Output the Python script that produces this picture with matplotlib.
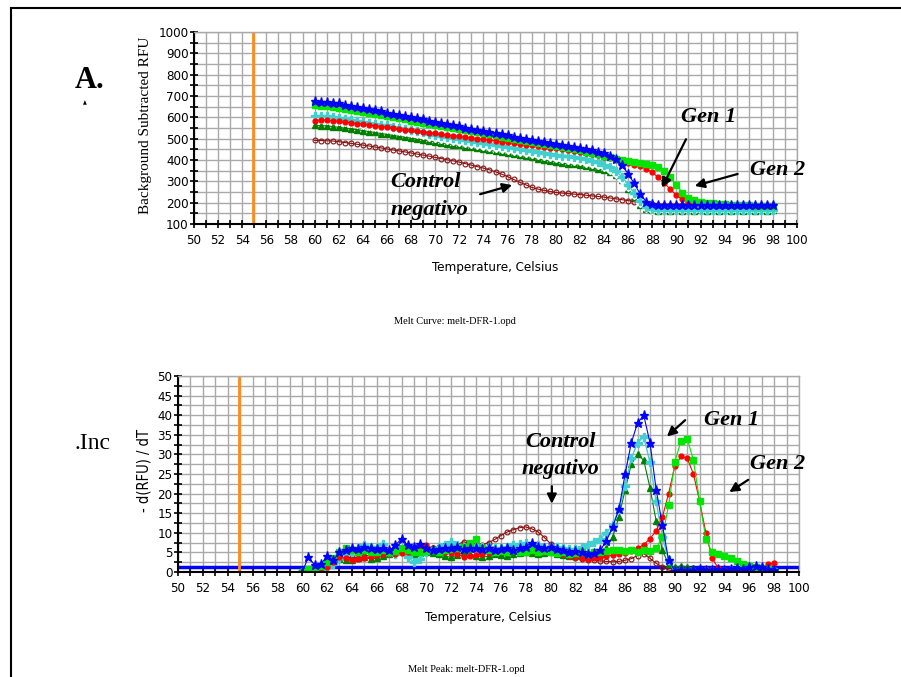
import numpy as np
import matplotlib
matplotlib.use('Agg')
import matplotlib.pyplot as plt
from matplotlib import font_manager
from matplotlib.ticker import MultipleLocator
from matplotlib.patches import Rectangle

# fuente estrecha: la que haya instalada
_fonts = font_manager.fontManager.ttflist
if any(f.name == 'Liberation Sans Narrow' for f in _fonts):
    NARROW, STRETCH, TK = ['Liberation Sans Narrow', 'DejaVu Sans'], 'normal', 10
elif any(f.name == 'DejaVu Sans' and 'condensed' in str(f.stretch) for f in _fonts):
    NARROW, STRETCH, TK = ['DejaVu Sans'], 'condensed', 9.5
else:
    NARROW, STRETCH, TK = ['Liberation Sans', 'DejaVu Sans'], 'normal', 8.5
SERIF = ['Liberation Serif', 'DejaVu Serif']
plt.rcParams['font.family'] = NARROW
plt.rcParams['font.stretch'] = STRETCH

# temperatura (grados C), paso 0.5
temps = [60.0, 60.5, 61.0, 61.5, 62.0, 62.5, 63.0, 63.5, 64.0, 64.5,
         65.0, 65.5, 66.0, 66.5, 67.0, 67.5, 68.0, 68.5, 69.0, 69.5,
         70.0, 70.5, 71.0, 71.5, 72.0, 72.5, 73.0, 73.5, 74.0, 74.5,
         75.0, 75.5, 76.0, 76.5, 77.0, 77.5, 78.0, 78.5, 79.0, 79.5,
         80.0, 80.5, 81.0, 81.5, 82.0, 82.5, 83.0, 83.5, 84.0, 84.5,
         85.0, 85.5, 86.0, 86.5, 87.0, 87.5, 88.0, 88.5, 89.0, 89.5,
         90.0, 90.5, 91.0, 91.5, 92.0, 92.5, 93.0, 93.5, 94.0, 94.5,
         95.0, 95.5, 96.0, 96.5, 97.0, 97.5, 98.0]

##curva de fusion (RFU)
rfu_blue = [676, 674, 672, 669, 665, 660, 655, 650, 645, 639,
            634, 628, 622, 617, 611, 606, 600, 595, 590, 585,
            580, 574, 569, 563, 558, 552, 547, 541, 536, 530,
            525, 520, 515, 510, 505, 500, 495, 490, 485, 481,
            477, 472, 467, 462, 457, 451, 445, 438, 431, 421,
            405, 375, 335, 290, 240, 205, 192, 190, 191, 189,
            190, 191, 189, 190, 191, 189, 190, 191, 189, 190,
            191, 189, 190, 191, 189, 190, 190]
rfu_green = [656, 654, 651, 647, 643, 639, 634, 629, 625, 620,
             615, 610, 605, 600, 595, 590, 585, 580, 575, 570,
             565, 560, 555, 550, 545, 540, 535, 530, 525, 520,
             515, 510, 505, 500, 495, 490, 485, 480, 475, 470,
             465, 460, 455, 450, 445, 439, 433, 427, 420, 413,
             406, 400, 396, 392, 388, 382, 375, 365, 347, 318,
             282, 247, 223, 211, 204, 200, 197, 195, 193, 191,
             189, 188, 187, 186, 185, 184, 183]
rfu_red = [585, 588, 587, 584, 581, 577, 574, 570, 567, 563,
           560, 556, 553, 549, 546, 542, 539, 535, 532, 528,
           525, 521, 518, 514, 511, 507, 504, 500, 497, 493,
           490, 486, 483, 479, 476, 472, 469, 465, 462, 458,
           455, 451, 447, 443, 439, 434, 429, 423, 416, 408,
           400, 392, 384, 377, 370, 358, 342, 318, 292, 262,
           235, 215, 203, 198, 195, 193, 192, 191, 191, 190,
           190, 190, 189, 189, 189, 189, 189]
rfu_cyan = [606, 606, 604, 601, 598, 593, 589, 584, 580, 575,
            571, 566, 562, 557, 552, 547, 542, 536, 530, 524,
            518, 514, 509, 505, 500, 495, 490, 485, 480, 476,
            471, 467, 462, 458, 453, 449, 444, 439, 435, 430,
            425, 421, 417, 412, 408, 403, 397, 389, 378, 366,
            348, 320, 285, 245, 210, 182, 168, 165, 166, 165,
            166, 167, 166, 165, 166, 167, 166, 165, 166, 167,
            166, 165, 166, 167, 166, 165, 166]
rfu_white = [592, 591, 589, 586, 583, 578, 574, 569, 565, 560,
             556, 551, 547, 542, 537, 532, 527, 521, 515, 509,
             503, 499, 494, 490, 485, 480, 475, 470, 465, 461,
             456, 452, 447, 443, 438, 434, 429, 424, 420, 415,
             410, 406, 402, 397, 393, 388, 382, 375, 365, 353,
             336, 308, 273, 235, 200, 176, 166, 165, 166, 165,
             166, 165, 166, 165, 166, 165, 166, 165, 166, 165,
             166, 165, 166, 165, 166, 165, 166]
rfu_dkgreen = [562, 561, 560, 557, 553, 549, 546, 542, 538, 533,
               529, 524, 520, 515, 511, 507, 502, 498, 494, 489,
               485, 481, 476, 472, 468, 463, 459, 454, 450, 446,
               441, 437, 432, 427, 422, 417, 412, 406, 401, 395,
               390, 386, 382, 379, 375, 370, 365, 359, 352, 343,
               332, 305, 265, 225, 190, 172, 165, 163, 164, 163,
               164, 163, 164, 163, 164, 163, 164, 163, 164, 163,
               164, 163, 164, 163, 164, 163, 164]
rfu_control = [492, 491, 490, 489, 486, 482, 478, 474, 470, 466,
               461, 457, 452, 447, 443, 438, 433, 428, 423, 418,
               412, 407, 401, 396, 390, 383, 376, 369, 362, 354,
               345, 334, 322, 309, 296, 284, 272, 264, 258, 253,
               248, 245, 243, 240, 238, 235, 232, 229, 226, 222,
               218, 214, 210, 204, 198, 194, 192, 191, 191, 190,
               190, 190, 190, 190, 190, 190, 190, 190, 190, 190,
               190, 190, 190, 190, 190, 190, 190]

##pico de fusion -d(RFU)/dT
d_blue = [0.0, 3.8, 1.8, 2.0, 4.0, 3.0, 5.0, 5.5, 6.0, 5.8,
          6.3, 6.0, 5.8, 6.0, 5.5, 6.8, 8.5, 6.8, 6.5, 7.2,
          6.0, 5.5, 5.8, 6.2, 6.0, 6.3, 5.8, 6.0, 6.0, 5.8,
          6.0, 5.5, 5.8, 6.0, 5.5, 6.0, 6.5, 7.5, 6.5, 6.0,
          6.5, 5.8, 5.5, 5.0, 5.3, 5.0, 4.5, 4.8, 5.5, 8.0,
          11.5, 16.0, 25.0, 33.0, 38.0, 40.0, 33.0, 21.0, 12.0, 3.0,
          0.3, 0.5, 0.2, 0.5, 0.8, 0.6, 0.5, 0.8, 0.6, 0.8,
          1.0, 0.8, 1.2, 1.5, 1.3, 0.8, 0.6]
d_green = [0.0, 0.8, 1.0, 1.5, 2.5, 3.5, 5.0, 6.0, 5.5, 5.0,
           5.5, 5.0, 5.2, 5.5, 5.0, 5.3, 6.0, 5.5, 5.2, 5.0,
           5.3, 5.5, 5.0, 5.5, 5.8, 6.0, 6.5, 7.5, 8.5, 6.0,
           5.5, 5.0, 5.3, 5.0, 5.5, 5.0, 5.2, 5.5, 5.0, 5.3,
           5.0, 4.8, 5.0, 4.5, 4.8, 5.0, 4.5, 5.0, 5.0, 5.3,
           5.5, 5.5, 5.3, 5.5, 5.2, 5.5, 5.3, 6.0, 9.0, 17.0,
           28.0, 33.5, 34.0, 28.5, 18.0, 8.5, 5.0, 4.5, 4.0, 3.5,
           2.8, 2.0, 1.5, 1.2, 1.0, 0.8, 0.2]
d_red = [0.0, 0.2, 0.3, 0.0, 1.2, 2.5, 3.8, 3.5, 3.0, 3.2,
         3.5, 3.8, 4.3, 4.5, 4.8, 4.5, 4.8, 5.0, 5.5, 6.0,
         6.8, 6.0, 5.2, 5.0, 4.8, 4.5, 3.8, 4.0, 4.3, 4.5,
         4.8, 5.0, 5.2, 5.3, 5.5, 5.3, 5.5, 5.3, 5.0, 5.2,
         5.0, 4.8, 4.5, 4.2, 3.8, 3.5, 3.2, 3.5, 3.8, 4.0,
         4.3, 4.5, 4.8, 5.3, 6.0, 7.0, 8.5, 10.5, 14.0, 20.0,
         27.0, 29.5, 29.0, 25.0, 18.0, 10.0, 3.5, 1.0, 0.5, 0.3,
         0.5, 0.3, 0.5, 0.8, 1.0, 2.0, 2.2]
d_cyan = [0.0, 0.3, 0.5, 0.8, 1.3, 2.0, 3.5, 4.5, 5.2, 6.0,
          6.8, 6.5, 6.2, 7.2, 5.0, 4.5, 5.5, 3.8, 2.5, 3.3,
          5.0, 5.8, 6.3, 7.0, 7.6, 7.0, 6.3, 6.5, 6.8, 6.5,
          6.3, 6.0, 6.2, 6.5, 7.0, 7.2, 7.3, 7.0, 6.8, 6.5,
          6.5, 6.3, 6.0, 5.8, 5.8, 6.3, 6.8, 7.7, 8.5, 10.0,
          12.0, 16.0, 22.0, 29.0, 33.0, 34.5, 28.0, 18.0, 9.0, 3.0,
          0.0, -0.6, -0.3, 0.0, 0.2, 0.3, 0.2, 0.5, 0.3, 0.5,
          0.6, 0.5, 0.8, 0.6, 0.5, 0.3, 0.2]
d_dkgreen = [0.0, 0.5, 1.0, 1.5, 2.0, 2.8, 3.2, 3.0, 3.0, 3.5,
             3.8, 3.3, 3.5, 4.2, 4.7, 5.0, 5.5, 5.0, 4.5, 4.8,
             5.2, 4.8, 4.5, 4.0, 3.8, 4.3, 5.0, 4.5, 4.2, 3.8,
             4.0, 4.5, 4.3, 4.0, 4.5, 4.8, 5.0, 4.8, 4.5, 4.8,
             5.0, 4.5, 4.3, 4.0, 4.2, 4.0, 3.8, 4.0, 4.5, 6.0,
             9.0, 14.0, 21.0, 27.5, 30.0, 28.5, 21.5, 13.0, 5.5, 2.0,
             1.2, 1.5, 1.3, 1.0, 0.5, 0.3, 0.5, 0.3, 0.5, 0.3,
             0.5, 0.6, 0.5, 0.3, 0.5, 0.3, 0.2]
d_control = [0.0, 0.5, 0.2, 0.5, 1.7, 2.5, 3.4, 3.6, 3.8, 3.5,
             4.0, 4.3, 4.2, 4.6, 5.2, 5.0, 5.5, 5.3, 5.5, 6.0,
             6.4, 6.2, 6.4, 6.8, 7.3, 7.0, 7.7, 7.3, 7.3, 7.0,
             7.5, 8.3, 9.3, 10.2, 10.8, 11.3, 11.5, 11.0, 10.2, 8.8,
             7.2, 6.0, 5.0, 4.2, 3.6, 3.2, 3.0, 3.0, 2.8, 2.7,
             2.6, 2.7, 3.0, 3.4, 4.2, 4.7, 3.5, 2.2, 1.3, 0.5,
             0.2, 0.3, 0.5, 0.3, 0.5, 0.8, 0.5, 0.3, 0.5, 0.5,
             0.7, 0.5, 0.3, 0.5, 0.3, 0.2, 0.0]

threshold = 1.3
marker_temp = 54.9

W, H = 901.0, 677.0
fig = plt.figure(figsize=(W/100, H/100), dpi=100)

def fx(px):
    return px/W

def fy(py):
    return 1-py/H

def estilo(ax, ymax, ymaj, ymin_step):
    ax.set_xlim(50, 100)
    ax.set_ylim(ax.get_ylim()[0], ymax)
    ax.xaxis.set_major_locator(MultipleLocator(2))
    ax.xaxis.set_minor_locator(MultipleLocator(1))
    ax.yaxis.set_major_locator(MultipleLocator(ymaj))
    ax.yaxis.set_minor_locator(MultipleLocator(ymin_step))
    ax.grid(which='both', color='#a9a9a9', lw=1.0)
    ax.set_axisbelow(True)
    ax.tick_params(which='both', direction='inout', length=6, width=1.2, color='black')
    ax.tick_params(axis='x', which='both', pad=4, labelsize=TK)
    ax.tick_params(axis='y', which='both', pad=1, labelsize=TK)
    for s in ['left', 'bottom']:
        ax.spines[s].set_linewidth(1.5)
        ax.spines[s].set_color('black')
    for s in ['top', 'right']:
        ax.spines[s].set_linewidth(1.0)
        ax.spines[s].set_color('#a9a9a9')

def series(ax, data):
    ax.plot(temps, data[6], color='#8b1010', lw=0.8, marker='o', ms=3.5, mfc='none', mew=0.8)
    ax.plot(temps, data[5], color='#008000', lw=0.8, marker='^', ms=4.5)
    if data[4] is not None:
        ax.plot(temps, data[4], color='white', lw=0.8, marker='D', ms=4, mec='white')
    ax.plot(temps, data[3], color='#40d0d0', lw=1.0, marker='P', ms=6, mec='#40d0d0')
    ax.plot(temps, data[2], color='#ff0000', lw=0.8, marker='o', ms=3.5)
    ax.plot(temps, data[1], color='#00e600', lw=0.8, marker='s', ms=4.5)
    ax.plot(temps, data[0], color='#0000ff', lw=0.8, marker='*', ms=6.5)

def flecha(ax, head, tail):
    ax.annotate('', xy=head, xytext=tail, annotation_clip=False,
                arrowprops=dict(arrowstyle='-|>', color='black', lw=1.6, mutation_scale=14))

etq = dict(family=SERIF, fontsize=16, fontweight='bold', fontstyle='italic')

# grafico A: curva de fusion
ax1 = fig.add_axes([fx(194), fy(224), fx(797-194), (224-32)/H])
ax1.set_ylim(100, 1000)
estilo(ax1, 1000, 100, 50)
ax1.axvline(marker_temp, color='#ff8c1a', lw=2)
series(ax1, [rfu_blue, rfu_green, rfu_red, rfu_cyan, rfu_white, rfu_dkgreen, rfu_control])
ax1.text(66.3, 297, 'Control', ha='left', va='center', clip_on=True, **etq)
ax1.text(66.3, 166, 'negativo', ha='left', va='center', clip_on=True, **etq)
ax1.text(92.7, 603, 'Gen 1', ha='center', va='center', clip_on=False, **etq)
ax1.text(98.4, 353, 'Gen 2', ha='center', va='center', clip_on=False, **etq)
flecha(ax1, (88.7, 259), (90.9, 509))
flecha(ax1, (91.3, 275), (95.3, 338))
flecha(ax1, (76.6, 286), (73.5, 236))

# grafico B: pico de fusion
ax2 = fig.add_axes([fx(178), fy(572), fx(799-178), (572-376)/H])
ax2.set_ylim(0, 50)
estilo(ax2, 50, 5, 2.5)
ax2.axvline(marker_temp, color='#ff8c1a', lw=2)
ax2.axhline(threshold, color='#0000ff', lw=2.5, zorder=1.5)
series(ax2, [d_blue, d_green, d_red, d_cyan, None, d_dkgreen, d_control])
ax2.text(80.8, 33.2, 'Control', ha='center', va='center', **etq)
ax2.text(80.8, 26.3, 'negativo', ha='center', va='center', **etq)
ax2.text(94.6, 38.8, 'Gen 1', ha='center', va='center', clip_on=False, **etq)
ax2.text(98.3, 27.5, 'Gen 2', ha='center', va='center', clip_on=False, **etq)
flecha(ax2, (80.1, 16.7), (80.1, 22.6))
flecha(ax2, (89.2, 34.1), (91.0, 39.2))
flecha(ax2, (94.2, 20.0), (96.1, 23.9))

# textos del marco
fig.text(fx(495), fy(268), 'Temperature, Celsius', ha='center', va='center', fontsize=9.5)
fig.text(fx(488), fy(617), 'Temperature, Celsius', ha='center', va='center', fontsize=9.5)
fig.text(fx(145), fy(125), 'Background Subtracted RFU', rotation=90, ha='center', va='center',
         family=SERIF, fontsize=11)
fig.text(fx(144), fy(470), '- d(RFU) / dT', rotation=90, ha='center', va='center', fontsize=10.5)
fig.text(fx(455), fy(321), 'Melt Curve: melt-DFR-1.opd', ha='center', va='center', family=SERIF, fontsize=7.5)
fig.text(fx(466), fy(669), 'Melt Peak: melt-DFR-1.opd', ha='center', va='center', family=SERIF, fontsize=7.5)
fig.text(fx(75), fy(88), 'A.', ha='left', va='baseline', family=SERIF, fontsize=22, fontweight='bold')
fig.text(fx(85), fy(103), '\u25b2', ha='center', va='center', family=['DejaVu Sans'], fontsize=4)
fig.text(fx(75), fy(449), '.Inc', ha='left', va='baseline', family=SERIF, fontsize=17)

fig.add_artist(Rectangle((fx(11), -0.1), 1.2, fy(8) + 0.1, transform=fig.transFigure,
                         fill=False, lw=1.5, ec='black'))

fig.savefig('out.png', dpi=100)
